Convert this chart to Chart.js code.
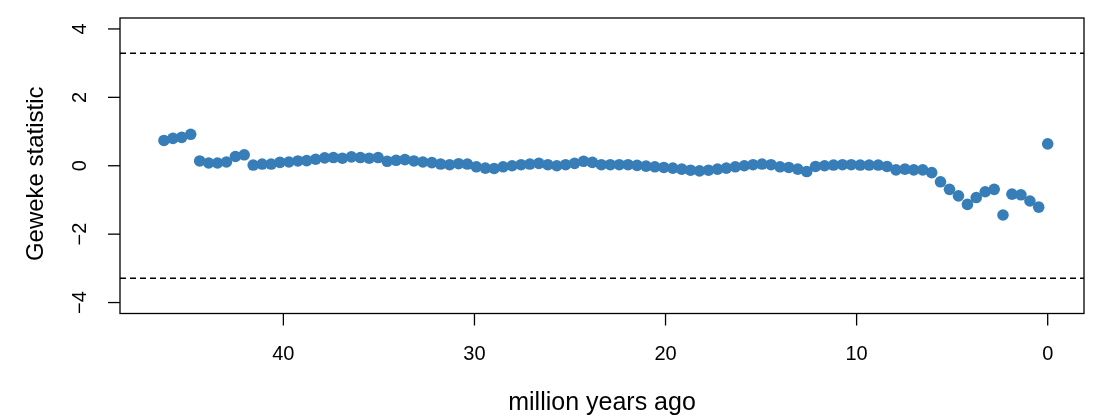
<!doctype html>
<html>
<head>
<meta charset="utf-8">
<title>Geweke statistic</title>
<script src="https://cdn.jsdelivr.net/npm/chart.js@4/dist/chart.umd.min.js"></script>
<style>
	html, body { margin: 0; padding: 0; background: #fff; }
	#wrap { width: 1098px; height: 420px; }
</style>
</head>
<body>
<div id="wrap"><canvas id="chart" width="1098" height="420"></canvas></div>
<script>
	// ages of the bins, million years ago
	var ages = [
		46.25, 45.78, 45.32, 44.85, 44.38, 43.91, 43.45, 42.98, 42.51, 42.05,
		41.58, 41.11, 40.64, 40.18, 39.71, 39.24, 38.78, 38.31, 37.84, 37.38,
		36.91, 36.44, 35.97, 35.51, 35.04, 34.57, 34.10, 33.64, 33.17, 32.70,
		32.23, 31.77, 31.30, 30.83, 30.37, 29.90, 29.43, 28.97, 28.50, 28.03,
		27.56, 27.10, 26.63, 26.16, 25.69, 25.23, 24.76, 24.29, 23.83, 23.36,
		22.89, 22.42, 21.96, 21.49, 21.02, 20.56, 20.09, 19.62, 19.15, 18.69,
		18.22, 17.75, 17.28, 16.82, 16.35, 15.88, 15.42, 14.95, 14.48, 14.01,
		13.55, 13.08, 12.61, 12.15, 11.68, 11.21, 10.74, 10.28, 9.81, 9.34,
		8.87, 8.41, 7.94, 7.47, 7.01, 6.54, 6.07, 5.61, 5.14, 4.67,
		4.20, 3.74, 3.27, 2.80, 2.34, 1.87, 1.40, 0.93, 0.47, 0.00
	];
	var geweke = [
		0.74, 0.80, 0.83, 0.92, 0.14, 0.08, 0.08, 0.11, 0.27, 0.32,
		0.02, 0.05, 0.05, 0.10, 0.11, 0.14, 0.15, 0.19, 0.23, 0.24,
		0.22, 0.26, 0.24, 0.22, 0.24, 0.13, 0.16, 0.18, 0.14, 0.11,
		0.09, 0.05, 0.03, 0.06, 0.05, -0.03, -0.07, -0.08, -0.03, 0.00,
		0.03, 0.05, 0.07, 0.03, 0.00, 0.03, 0.07, 0.13, 0.10, 0.03,
		0.03, 0.03, 0.03, 0.01, -0.01, -0.03, -0.05, -0.07, -0.10, -0.13,
		-0.15, -0.13, -0.10, -0.07, -0.03, 0.00, 0.03, 0.05, 0.03, -0.03,
		-0.05, -0.10, -0.17, -0.02, 0.00, 0.02, 0.03, 0.03, 0.02, 0.02,
		0.02, -0.02, -0.12, -0.10, -0.12, -0.12, -0.20, -0.47, -0.69, -0.88,
		-1.13, -0.93, -0.76, -0.69, -1.44, -0.83, -0.85, -1.03, -1.21, 0.64
	];
	var xTicks = [40, 30, 20, 10, 0];
	var yTicks = [4, 2, 0, -2, -4];
	var critical = [3.29, -3.29];
	var xRange = [-1.9, 48.55];
	var yRange = [-4.32, 4.32];

	var FONT = '"Liberation Sans", Arial, Helvetica, sans-serif';

	var points = ages.map(function (a, i) {
		return { x: a, y: geweke[i] };
	});

	function critLine(v) {
		return {
			type: 'line',
			data: [{ x: xRange[1], y: v }, { x: xRange[0], y: v }],
			borderColor: '#000',
			borderWidth: 1.3,
			borderDash: [6, 4],
			pointRadius: 0,
			fill: false
		};
	}

	// box, ticks and titles drawn the way R does them
	var rAxes = {
		id: 'rAxes',
		afterDraw: function (chart) {
			var ctx = chart.ctx, a = chart.chartArea;
			var xs = chart.scales.x, ys = chart.scales.y;
			ctx.save();
			ctx.strokeStyle = '#000';
			ctx.fillStyle = '#000';
			ctx.lineWidth = 1.3;
			ctx.strokeRect(a.left, a.top, a.right - a.left, a.bottom - a.top);

			ctx.font = '20px ' + FONT;
			ctx.textAlign = 'center';
			ctx.textBaseline = 'alphabetic';
			xTicks.forEach(function (v) {
				var px = xs.getPixelForValue(v);
				ctx.beginPath();
				ctx.moveTo(px, a.bottom);
				ctx.lineTo(px, a.bottom + 12);
				ctx.stroke();
				ctx.fillText(String(v), px, 360);
			});
			yTicks.forEach(function (v) {
				var py = ys.getPixelForValue(v);
				ctx.beginPath();
				ctx.moveTo(a.left, py);
				ctx.lineTo(a.left - 12, py);
				ctx.stroke();
				ctx.save();
				ctx.translate(86, py);
				ctx.rotate(-Math.PI / 2);
				ctx.fillText(v < 0 ? '\u2212' + Math.abs(v) : String(v), 0, 0);
				ctx.restore();
			});

			ctx.font = '25px ' + FONT;
			ctx.fillText('million years ago', (a.left + a.right) / 2, 410);
			ctx.save();
			ctx.translate(43, (a.top + a.bottom) / 2 + 8);
			ctx.rotate(-Math.PI / 2);
			ctx.font = '24px ' + FONT;
			ctx.fillText('Geweke statistic', 0, 0);
			ctx.restore();
			ctx.restore();
		}
	};

	var config = {
		type: 'scatter',
		data: {
			datasets: [
				{
					data: points,
					backgroundColor: '#377EB8',
					borderWidth: 0,
					pointRadius: 5.8,
					pointHoverRadius: 5.8
				},
				critLine(critical[0]),
				critLine(critical[1])
			]
		},
		options: {
			responsive: false,
			animation: false,
			devicePixelRatio: 1,
			layout: { padding: { left: 0, right: 14, top: 18, bottom: 0 } },
			plugins: {
				legend: { display: false },
				tooltip: { enabled: false }
			},
			scales: {
				x: {
					type: 'linear',
					reverse: true,
					min: xRange[0],
					max: xRange[1],
					grid: { display: false },
					border: { display: false },
					ticks: { display: false },
					afterFit: function (s) { s.height = 420 - 313.5; }
				},
				y: {
					type: 'linear',
					min: yRange[0],
					max: yRange[1],
					grid: { display: false },
					border: { display: false },
					ticks: { display: false },
					afterFit: function (s) { s.width = 120; }
				}
			}
		},
		plugins: [rAxes]
	};

	window.onload = function () {
		var ctx = document.getElementById('chart').getContext('2d');
		window.myChart = new Chart(ctx, config);
	};
</script>
</body>
</html>
